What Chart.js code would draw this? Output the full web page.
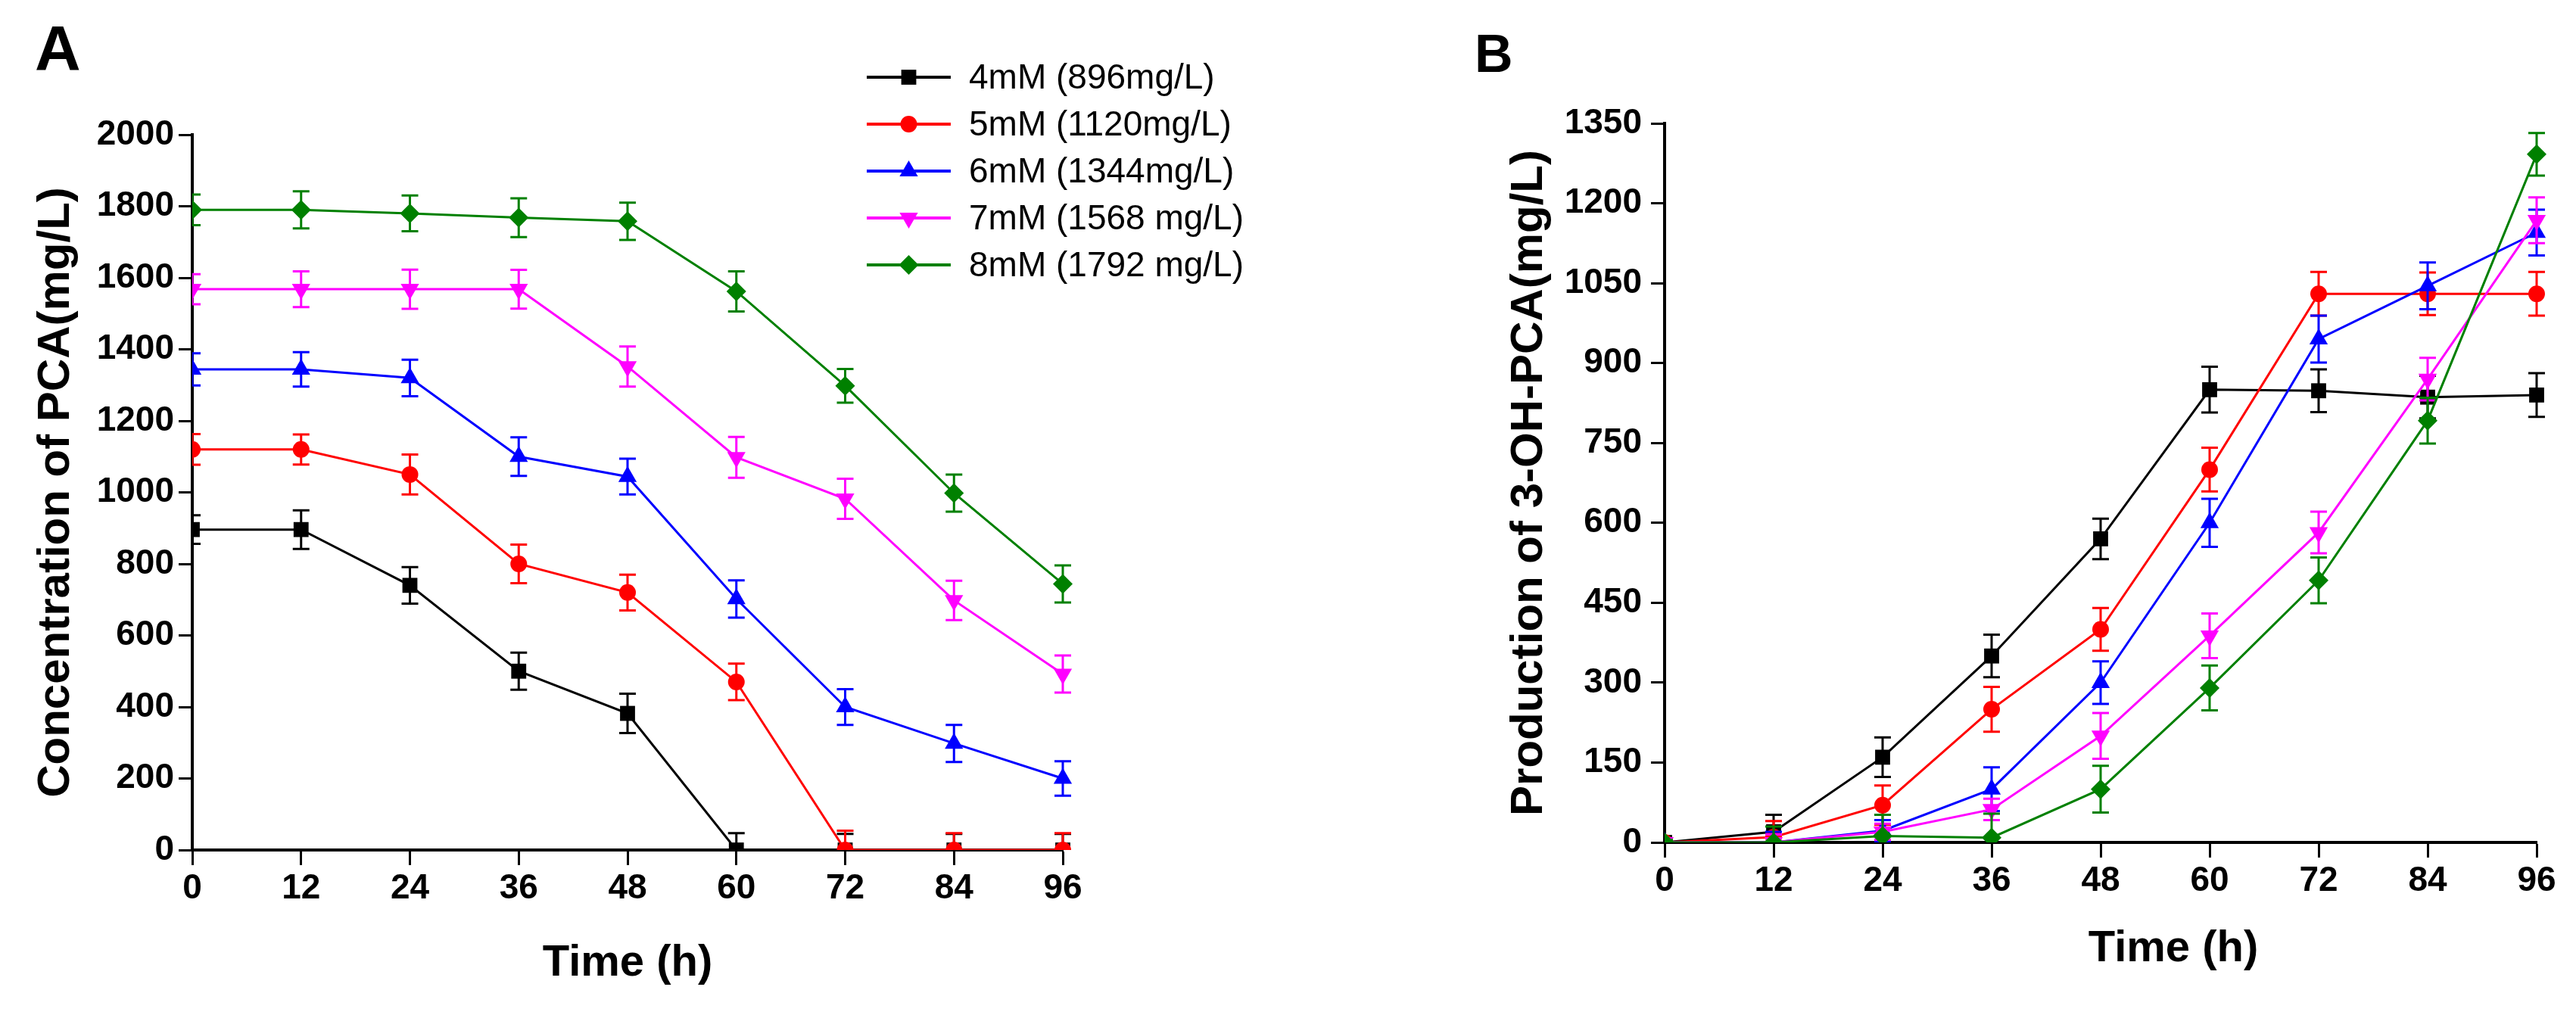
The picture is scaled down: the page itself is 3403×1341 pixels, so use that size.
<!DOCTYPE html>
<html>
<head>
<meta charset="utf-8">
<script src="https://cdn.jsdelivr.net/npm/chart.js@4.4.1/dist/chart.umd.min.js"></script>
<style>
  html, body { margin: 0; padding: 0; background: #fff; }
  #wrap { position: relative; width: 3403px; height: 1341px; overflow: hidden; }
  canvas { position: absolute; top: 0; }
  .panel { position: absolute; font-family: 'Liberation Sans', Arial, sans-serif; font-weight: bold; line-height: 1; color: #000; }
</style>
</head>
<body>
<div id="wrap">
  <canvas id="chartA" width="1700" height="1341" style="left:0"></canvas>
  <canvas id="chartB" width="1703" height="1341" style="left:1700px"></canvas>
  <div class="panel" style="left:46px; top:22px; font-size:84px;">A</div>
  <div class="panel" style="left:1948px; top:36px; font-size:70px;">B</div>
</div>
<script>
// ---- data ----
const hours = [0, 12, 24, 36, 48, 60, 72, 84, 96];

const seriesNames = ['4mM (896mg/L)', '5mM (1120mg/L)', '6mM (1344mg/L)', '7mM (1568 mg/L)', '8mM (1792 mg/L)'];
const colors = ['#000000', '#ff0000', '#0000ff', '#ff00ff', '#008000'];

// Panel A: concentration of PCA (mg/L)
const pca4mM = [896, 896, 740, 500, 382, 0, 0, 0, 0];
const pca5mM = [1120, 1120, 1050, 800, 720, 470, 0, 0, 0];
const pca6mM = [1344, 1344, 1320, 1100, 1044, 702, 400, 298, 200];
const pca7mM = [1568, 1568, 1568, 1568, 1352, 1098, 982, 698, 492];
const pca8mM = [1790, 1790, 1780, 1768, 1758, 1562, 1298, 998, 744];

const pcaErr4mM = [40, 54, 51, 52, 55, 47, 45, 45, 45];
const pcaErr5mM = [43, 42, 56, 54, 50, 51, 54, 47, 47];
const pcaErr6mM = [45, 48, 51, 54, 50, 52, 50, 52, 48];
const pcaErr7mM = [42, 50, 55, 54, 56, 57, 56, 55, 52];
const pcaErr8mM = [43, 52, 50, 54, 52, 56, 47, 52, 52];

// Panel B: production of 3-OH-PCA (mg/L)
const oh4mM = [0, 20, 160, 350, 570, 850, 848, 836, 840];
const oh5mM = [0, 10, 70, 250, 400, 700, 1030, 1030, 1030];
const oh6mM = [0, 0, 22, 100, 300, 600, 945, 1045, 1145];
const oh7mM = [0, 0, 20, 62, 200, 388, 582, 870, 1168];
const oh8mM = [0, 0, 12, 9, 100, 290, 492, 792, 1292];

const ohErr4mM = [5, 32, 37, 40, 38, 43, 40, 40, 41];
const ohErr5mM = [5, 30, 37, 42, 40, 41, 41, 40, 41];
const ohErr6mM = [5, 20, 20, 41, 40, 45, 44, 44, 43];
const ohErr7mM = [5, 15, 15, 20, 43, 42, 39, 40, 43];
const ohErr8mM = [5, 30, 40, 45, 44, 42, 43, 43, 40];

const yTicksA = { min: 0, max: 2000, step: 200 };
const yTicksB = { min: 0, max: 1350, step: 150 };

const pointStyles = [
  { pointStyle: 'rect', radius: 14, rotation: 0 },
  { pointStyle: 'circle', radius: 11, rotation: 0 },
  { pointStyle: 'triangle', radius: 14, rotation: 0 },
  { pointStyle: 'triangle', radius: 14, rotation: 180 },
  { pointStyle: 'rectRot', radius: 13, rotation: 0 }
];

const FONT = "'Liberation Sans', Arial, sans-serif";
Chart.defaults.font.family = FONT;
Chart.defaults.color = '#000';

function makeDatasets(values, errors) {
  return values.map((vals, i) => ({
    label: seriesNames[i],
    data: hours.map((h, j) => ({ x: h, y: vals[j] })),
    errors: errors[i],
    borderColor: colors[i],
    backgroundColor: colors[i],
    borderWidth: 3,
    pointStyle: pointStyles[i].pointStyle,
    pointRadius: pointStyles[i].radius,
    pointRotation: pointStyles[i].rotation,
    pointBorderWidth: 0,
    pointHoverRadius: pointStyles[i].radius,
    tension: 0,
    order: 5 - i,
    clip: { left: 0, top: false, right: false, bottom: 0 }
  }));
}

/* ---------------- ERROR BARS ---------------- */

const errorBars = {
  id: 'errorBars',
  afterDatasetDraw(chart, args) {
    const ds = chart.data.datasets[args.index];
    if (!ds.errors) return;
    const { ctx, chartArea, scales } = chart;
    const cap = 11;
    ctx.save();
    ctx.beginPath();
    ctx.rect(chartArea.left, 0, chart.width - chartArea.left, chartArea.bottom);
    ctx.clip();
    ctx.strokeStyle = ds.borderColor;
    ctx.lineWidth = 3;
    ds.data.forEach((p, i) => {
      const e = ds.errors[i];
      const x = scales.x.getPixelForValue(p.x);
      const yTop = scales.y.getPixelForValue(p.y + e);
      const yBot = scales.y.getPixelForValue(p.y - e);
      ctx.beginPath();
      ctx.moveTo(x, yTop); ctx.lineTo(x, yBot);
      ctx.moveTo(x - cap, yTop); ctx.lineTo(x + cap, yTop);
      ctx.moveTo(x - cap, yBot); ctx.lineTo(x + cap, yBot);
      ctx.stroke();
    });
    ctx.restore();
  }
};

/* ---------------- LEGEND (panel A) ---------------- */

const sideLegend = {
  id: 'sideLegend',
  afterDraw(chart) {
    const ctx = chart.ctx;
    const x0 = 1145, x1 = 1256, tx = 1280, y0 = 102, dy = 62;
    ctx.save();
    chart.data.datasets.forEach((ds, i) => {
      const y = y0 + i * dy;
      ctx.strokeStyle = ds.borderColor;
      ctx.fillStyle = ds.backgroundColor;
      ctx.lineWidth = 4;
      ctx.beginPath();
      ctx.moveTo(x0, y); ctx.lineTo(x1, y);
      ctx.stroke();
      Chart.helpers.drawPoint(ctx, {
        pointStyle: ds.pointStyle,
        radius: ds.pointRadius,
        rotation: ds.pointRotation,
        borderWidth: 0
      }, (x0 + x1) / 2, y);
      ctx.fillStyle = '#000';
      ctx.font = '46px ' + FONT;
      ctx.textBaseline = 'middle';
      ctx.textAlign = 'left';
      ctx.fillText(ds.label, tx, y + 2);
    });
    ctx.restore();
  }
};

/* ---------------- X TITLE (panel B sits right of centre) ---------------- */

const shiftedXTitle = {
  id: 'shiftedXTitle',
  afterDraw(chart, args, opts) {
    const ctx = chart.ctx;
    const a = chart.chartArea;
    ctx.save();
    ctx.fillStyle = '#000';
    ctx.font = 'bold 58px ' + FONT;
    ctx.textAlign = 'center';
    ctx.textBaseline = 'middle';
    ctx.fillText(opts.text, (a.left + a.right) / 2 + opts.shift, opts.y);
    ctx.restore();
  }
};

function axisOptions(yRange, yWidth, xHeight, yTitle, yTitlePad, yTickPad, showXTitle) {
  return {
    x: {
      type: 'linear',
      min: 0, max: 96,
      afterFit: s => { s.height = xHeight; },
      ticks: { stepSize: 12, padding: 4, font: { size: 46, weight: 'bold' }, color: '#000' },
      grid: { display: true, drawOnChartArea: false, drawTicks: true, tickLength: 20, tickWidth: 3, tickColor: '#000' },
      border: { display: true, width: 4, color: '#000' },
      title: { display: showXTitle, text: 'Time (h)', font: { size: 58, weight: 'bold' }, color: '#000', padding: { top: 0, bottom: 33 } }
    },
    y: {
      min: yRange.min, max: yRange.max,
      afterFit: s => { s.width = yWidth; },
      ticks: {
        stepSize: yRange.step, padding: yTickPad,
        font: { size: 46, weight: 'bold' }, color: '#000',
        callback: v => String(v)
      },
      grid: { display: true, drawOnChartArea: false, drawTicks: true, tickLength: 18, tickWidth: 3, tickColor: '#000' },
      border: { display: true, width: 4, color: '#000' },
      title: { display: true, text: yTitle, font: { size: 60, weight: 'bold' }, color: '#000', padding: { top: yTitlePad, bottom: 0 } }
    }
  };
}

const chartA = new Chart(document.getElementById('chartA'), {
  type: 'line',
  data: {
    datasets: makeDatasets(
      [pca4mM, pca5mM, pca6mM, pca7mM, pca8mM],
      [pcaErr4mM, pcaErr5mM, pcaErr6mM, pcaErr7mM, pcaErr8mM])
  },
  options: {
    responsive: false,
    animation: false,
    devicePixelRatio: 1,
    layout: { padding: { left: 0, top: 178, right: 296, bottom: 0 } },
    plugins: { legend: { display: false }, tooltip: { enabled: false } },
    scales: axisOptions(yTicksA, 254, 218, 'Concentration of PCA(mg/L)', 38, 6, true)
  },
  plugins: [errorBars, sideLegend]
});

const chartB = new Chart(document.getElementById('chartB'), {
  type: 'line',
  data: {
    datasets: makeDatasets(
      [oh4mM, oh5mM, oh6mM, oh7mM, oh8mM],
      [ohErr4mM, ohErr5mM, ohErr6mM, ohErr7mM, ohErr8mM])
  },
  options: {
    responsive: false,
    animation: false,
    devicePixelRatio: 1,
    layout: { padding: { left: 0, top: 163, right: 52, bottom: 0 } },
    plugins: {
      legend: { display: false },
      tooltip: { enabled: false },
      shiftedXTitle: { text: 'Time (h)', shift: 96, y: 1254 }
    },
    scales: axisOptions(yTicksB, 499, 228, 'Production of 3-OH-PCA(mg/L)', 284, 12, false)
  },
  plugins: [errorBars, shiftedXTitle]
});
</script>
</body>
</html>
